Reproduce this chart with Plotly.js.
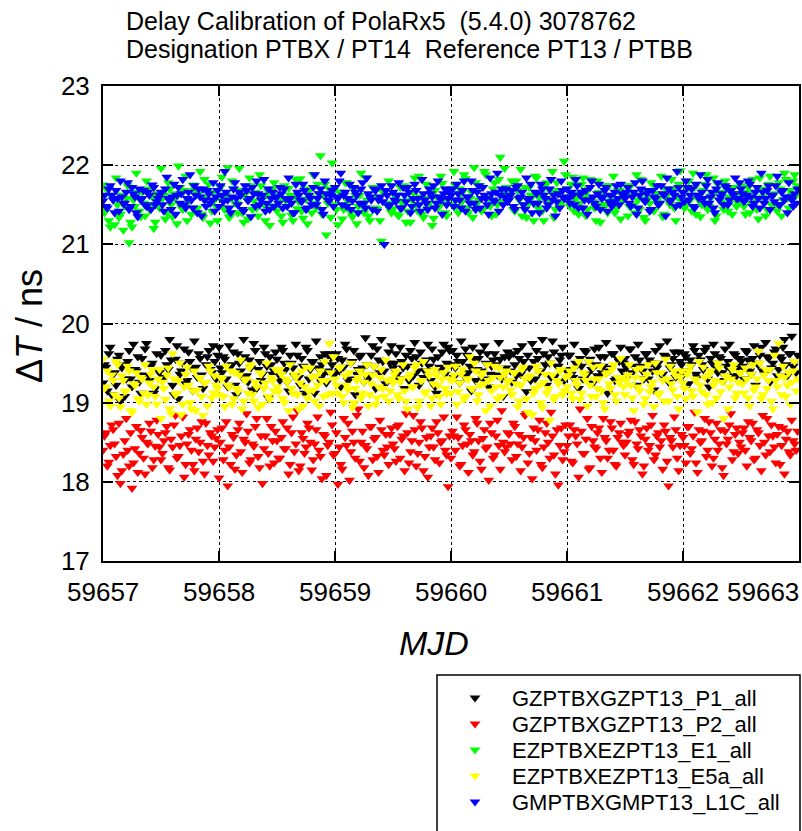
<!DOCTYPE html>
<html><head><meta charset="utf-8">
<script src="https://cdn.plot.ly/plotly-3.0.1.min.js"></script>
<style>html,body{margin:0;padding:0;background:#fff;}#chart{width:802px;height:831px;}</style>
</head><body><div id="chart"></div>
<script>
const titleLines = ['Delay Calibration of PolaRx5  (5.4.0) 3078762', 'Designation PTBX / PT14  Reference PT13 / PTBB'];
const seriesNames = ['GZPTBXGZPT13_P1_all', 'GZPTBXGZPT13_P2_all', 'EZPTBXEZPT13_E1_all', 'EZPTBXEZPT13_E5a_all', 'GMPTBXGMPT13_L1C_all'];
const seriesColors = ['#000000', '#ff0000', '#00ff00', '#ffff00', '#0000ff'];
const xTickValues = [59657, 59658, 59659, 59660, 59661, 59662, 59663];
const xTickLabels = ['59657', '59658', '59659', '59660', '59661', '59662', '59663'];
const yTickValues = [17, 18, 19, 20, 21, 22, 23];
const yTickLabels = ['17', '18', '19', '20', '21', '22', '23'];
const xTitle = 'MJD';
const yTitle = 'Δ<i>T</i> / ns';

// two interleaved sets of tracks, 40 per day each; set B sits half a step after set A
const sampleStart = 59657;
const samplesPerDay = 40;

// ---- set A ----
const p1A = [
19.25,19.45,19.62,19.10,19.38,19.55,19.02,19.48,19.30,19.66,19.20,19.42,19.58,19.12,19.35,19.75,19.28,19.50,19.18,19.40,
19.60,19.32,19.48,19.80,19.22,19.55,19.05,19.40,19.68,19.28,19.52,19.15,19.45,19.62,19.35,19.25,19.58,19.42,19.72,19.30,
19.70,19.38,19.55,19.20,19.46,19.64,19.10,19.50,19.32,19.58,19.26,19.44,19.75,19.18,19.52,19.36,19.62,19.06,19.48,19.40,
19.55,19.28,19.66,19.42,19.15,19.50,19.34,19.60,19.22,19.46,19.70,19.30,19.52,19.12,19.44,19.58,19.36,19.25,19.62,19.48,
19.38,19.56,19.20,19.45,19.68,19.30,19.52,19.10,19.42,19.60,19.26,19.48,19.35,19.72,19.18,19.54,19.80,19.40,19.28,19.50,
19.44,19.62,19.30,19.52,19.18,19.46,19.66,19.34,19.58,19.22,19.50,19.40,19.74,19.28,19.55,19.12,19.45,19.64,19.36,19.70,
19.48,19.32,19.60,19.25,19.52,19.68,19.38,19.15,19.56,19.42,19.64,19.30,19.50,19.20,19.46,19.62,19.35,19.55,19.08,19.44,
19.58,19.26,19.48,19.66,19.36,19.52,19.14,19.44,19.75,19.30,19.56,19.40,19.62,19.22,19.50,19.78,19.34,19.46,19.60,19.28,
19.42,19.60,19.32,19.50,19.18,19.46,19.66,19.36,19.55,19.25,19.48,19.70,19.38,19.58,19.12,19.44,19.62,19.30,19.52,19.40,
19.56,19.34,19.68,19.46,19.22,19.54,19.40,19.62,19.30,19.50,19.16,19.44,19.72,19.36,19.58,19.26,19.48,19.64,19.38,19.52,
19.35,19.58,19.24,19.48,19.66,19.32,19.54,19.42,19.70,19.20,19.50,19.62,19.38,19.56,19.28,19.46,19.74,19.34,19.60,19.44,
19.52,19.30,19.64,19.40,19.56,19.22,19.48,19.70,19.36,19.58,19.26,19.50,19.68,19.42,19.55,19.80,19.34,19.62,19.46,19.38
];
const p2A = [
18.40,18.62,18.25,18.72,18.48,18.08,17.98,18.35,18.80,18.20,17.92,18.42,18.12,18.65,18.30,18.50,18.74,18.18,18.45,18.60,
18.28,18.52,18.70,18.15,18.44,18.84,18.32,18.58,18.06,18.48,18.66,18.22,18.54,18.38,18.76,18.10,18.46,18.62,18.26,18.55,
18.05,18.68,18.40,17.95,18.22,18.56,18.34,18.74,18.12,18.50,18.64,18.28,18.45,18.80,18.18,17.98,18.58,18.36,18.70,18.24,
18.52,18.30,18.76,18.42,18.10,18.62,18.38,18.90,18.20,18.55,18.44,18.68,18.15,18.48,18.82,18.32,18.60,18.08,18.50,18.72,
18.36,17.97,18.22,18.80,18.46,18.02,18.64,18.30,18.92,18.50,18.18,18.42,18.70,18.28,18.56,18.12,18.66,18.34,18.44,18.60,
18.48,18.26,18.72,18.54,18.14,18.62,18.38,18.84,18.20,18.50,18.68,18.32,18.06,18.58,18.44,18.76,18.24,18.52,18.40,17.94,
18.30,18.58,18.82,18.20,18.46,18.66,18.12,18.52,18.38,18.74,18.26,18.55,18.42,18.02,18.62,18.34,18.78,18.16,18.50,18.44,
18.60,18.28,18.70,18.48,18.14,18.56,18.86,18.36,18.04,18.52,18.66,18.22,18.44,18.74,18.30,18.58,18.10,17.96,18.68,18.38,
18.46,18.72,18.24,18.58,18.06,18.64,18.36,18.80,18.18,18.52,18.42,18.68,18.12,18.56,18.30,18.76,18.40,18.20,18.62,18.50,
18.34,18.60,18.78,18.22,18.48,18.66,18.10,18.54,18.40,18.72,18.28,18.58,18.44,18.16,18.64,17.95,18.52,18.82,18.30,18.46,
18.56,18.24,18.70,18.42,18.88,18.12,18.50,18.64,18.32,18.76,18.20,18.54,18.40,18.66,18.08,18.48,18.72,18.28,18.60,18.36,
18.44,18.68,18.20,18.56,18.74,18.30,18.62,18.14,18.50,18.80,18.38,18.58,18.24,18.70,18.46,18.10,18.64,18.34,18.52,18.40
];
const e1A = [
21.75,21.45,21.30,21.62,21.25,21.50,21.38,21.18,21.58,21.02,21.22,21.48,21.66,21.35,21.52,21.80,21.44,21.60,21.28,21.55,
21.96,21.62,21.40,21.70,21.35,21.58,21.99,21.47,21.68,21.30,21.56,21.75,21.42,21.64,21.38,21.82,21.51,21.27,21.66,21.48,
21.60,21.85,21.44,21.97,21.36,21.70,21.52,21.96,21.40,21.63,21.32,21.74,21.55,21.46,21.88,21.58,21.30,21.67,21.49,21.78,
21.42,21.62,21.28,21.55,21.71,21.37,21.60,21.45,21.83,21.33,21.57,21.68,21.40,21.52,21.76,22.12,21.62,21.12,21.70,22.03,
21.50,21.25,21.66,21.44,21.78,21.58,21.35,21.62,21.48,21.90,21.40,21.56,21.30,21.72,21.46,21.60,21.04,21.68,21.52,21.44,
21.45,21.62,21.36,21.55,21.74,21.42,21.28,21.65,21.50,21.86,21.38,21.58,21.46,21.70,21.33,21.60,21.48,21.77,21.40,21.56,
21.62,21.92,21.48,21.70,21.55,21.83,21.40,21.66,21.97,21.52,21.74,21.44,21.88,21.58,21.36,21.78,21.50,22.10,21.64,21.72,
21.58,21.80,21.42,21.68,21.95,21.50,21.34,21.72,21.60,21.86,21.46,21.64,21.30,21.78,21.56,21.92,21.44,21.68,21.52,22.05,
21.70,21.48,21.85,21.58,21.38,21.76,21.62,21.44,21.82,21.54,21.30,21.66,21.50,21.74,21.40,21.60,21.86,21.46,21.68,21.55,
21.62,21.36,21.74,21.50,21.88,21.44,21.66,21.30,21.58,21.78,21.42,21.64,21.52,21.35,21.70,21.56,21.82,21.46,21.60,21.93,
21.66,21.50,21.80,21.42,21.72,21.58,21.35,21.68,21.88,21.48,21.62,21.30,21.76,21.54,21.44,21.70,21.60,21.38,21.64,21.52,
21.74,21.48,21.66,21.40,21.82,21.56,21.32,21.70,21.58,21.44,21.86,21.62,21.50,21.78,21.36,21.90,21.58,21.68,21.80,21.62
];
const e5aA = [
19.55,19.20,19.02,19.35,19.10,19.48,18.95,19.28,19.15,19.40,18.88,19.22,19.05,19.32,19.12,18.98,19.25,19.42,19.08,19.30,
18.80,19.18,19.35,18.92,19.62,19.10,19.28,18.85,19.20,19.45,19.00,19.15,18.90,19.32,19.08,19.25,18.96,19.40,19.12,19.22,
19.10,19.30,18.95,19.22,19.40,19.05,19.18,19.35,18.92,19.28,19.12,19.48,19.02,19.20,19.38,18.98,19.25,19.08,19.32,19.15,
19.20,19.42,19.05,19.30,18.90,19.18,19.36,19.10,19.25,18.96,19.45,19.14,19.32,19.02,19.22,19.40,19.08,19.28,19.75,19.12,
19.30,19.12,19.45,19.00,19.22,19.38,18.94,19.18,19.32,19.06,19.26,19.48,19.10,19.35,18.98,19.20,19.42,19.08,19.28,19.15,
19.25,19.40,19.05,19.30,19.15,18.92,19.36,19.20,19.48,19.02,19.28,19.12,19.40,18.96,19.24,19.35,19.08,19.30,19.18,19.45,
19.12,19.35,18.98,19.25,19.42,19.08,19.30,19.18,19.50,19.02,19.22,19.38,18.90,19.28,19.15,19.46,19.05,19.32,19.20,19.40,
19.28,19.10,19.38,18.95,19.22,19.45,19.05,19.32,18.85,19.18,19.40,19.00,19.26,19.12,18.78,19.35,19.08,19.24,19.42,19.15,
19.20,19.40,19.05,19.28,19.52,19.12,19.35,18.96,19.22,19.45,19.08,19.30,19.15,18.92,19.38,19.18,19.48,19.02,19.25,19.32,
19.10,19.35,19.22,18.90,19.42,19.15,19.30,19.05,19.48,19.20,18.95,19.38,19.12,19.28,19.55,19.02,19.24,19.40,19.08,19.32,
19.25,19.05,19.40,19.15,19.30,18.88,19.22,19.45,19.10,19.35,19.00,19.28,19.50,19.14,18.80,19.32,19.20,19.42,19.06,19.26,
19.38,19.12,19.30,18.96,19.48,19.20,19.65,19.05,19.35,19.18,19.42,18.92,19.28,19.75,19.10,19.32,19.22,18.98,19.40,19.15
];
const l1cA = [
21.55,21.48,21.70,21.62,21.40,21.58,21.80,21.52,21.66,21.44,21.72,21.60,21.35,21.56,21.68,21.48,21.62,21.75,21.50,21.58,
21.66,21.42,21.85,21.55,21.60,21.38,21.72,21.64,21.50,21.58,21.88,21.46,21.62,21.70,21.36,21.56,21.68,21.52,21.78,21.60,
21.48,21.62,21.92,21.56,21.40,21.70,21.58,21.66,21.44,21.74,21.55,21.35,21.64,21.80,21.50,21.62,21.42,21.70,21.58,21.48,
21.60,21.72,21.46,21.58,21.84,21.52,21.40,21.66,21.56,21.76,21.44,21.62,21.50,21.88,21.58,21.70,21.38,21.64,21.55,21.68,
21.72,21.58,21.90,21.62,21.48,21.76,21.55,21.66,21.40,21.70,21.52,21.84,21.60,21.44,21.68,21.56,21.74,21.00,21.62,21.50,
21.66,21.54,21.78,21.46,21.62,21.72,21.40,21.58,21.68,21.50,21.82,21.56,21.44,21.64,21.74,21.52,21.60,21.38,21.70,21.58,
21.62,21.48,21.76,21.56,21.68,21.42,21.60,21.80,21.52,21.66,21.46,21.72,21.58,21.38,21.64,21.54,21.90,21.62,21.50,21.70,
21.56,21.68,21.44,21.74,21.60,21.50,21.84,21.58,21.40,21.66,21.52,21.76,21.62,21.46,21.70,21.56,21.36,21.64,21.80,21.58,
21.70,21.52,21.62,21.82,21.46,21.66,21.56,21.38,21.72,21.60,21.48,21.76,21.58,21.68,21.42,21.62,21.54,21.74,21.50,21.64,
21.58,21.72,21.48,21.66,21.38,21.62,21.80,21.54,21.68,21.44,21.60,21.74,21.52,21.64,21.36,21.70,21.56,21.62,21.92,21.50,
21.66,21.80,21.56,21.70,21.46,21.62,21.88,21.58,21.74,21.52,21.66,21.40,21.78,21.60,21.50,21.72,21.56,21.64,21.84,21.58,
21.70,21.54,21.62,21.76,21.48,21.66,21.58,21.90,21.52,21.68,21.44,21.62,21.74,21.50,21.66,21.56,21.40,21.60,21.48,21.52
];

// ---- set B ----
const p1B = [
19.48,19.15,19.70,19.36,19.22,19.60,19.44,19.08,19.52,19.30,19.74,19.40,19.26,19.56,19.68,19.34,19.46,19.12,19.62,19.38,
19.28,19.66,19.42,19.54,19.10,19.72,19.36,19.50,19.24,19.64,19.44,19.78,19.32,19.56,19.18,19.48,19.66,19.38,19.52,19.60,
19.44,19.58,19.30,19.72,19.48,19.22,19.62,19.40,19.80,19.34,19.54,19.16,19.66,19.42,19.28,19.70,19.46,19.58,19.36,19.64,
19.36,19.70,19.50,19.26,19.60,19.44,19.74,19.32,19.56,19.12,19.66,19.42,19.52,19.78,19.30,19.48,19.62,19.40,19.56,19.34,
19.62,19.40,19.54,19.74,19.28,19.50,19.66,19.36,19.58,19.44,19.82,19.30,19.60,19.46,19.68,19.38,19.52,19.24,19.64,19.72,
19.50,19.36,19.70,19.44,19.60,19.28,19.56,19.76,19.40,19.64,19.32,19.54,19.46,19.68,19.20,19.58,19.42,19.74,19.50,19.66,
19.66,19.44,19.52,19.78,19.34,19.60,19.46,19.70,19.28,19.56,19.40,19.72,19.62,19.36,19.54,19.48,19.76,19.30,19.58,19.64,
19.40,19.62,19.34,19.56,19.72,19.44,19.60,19.28,19.52,19.66,19.38,19.80,19.48,19.58,19.32,19.64,19.46,19.54,19.70,19.42,
19.60,19.36,19.74,19.48,19.56,19.30,19.64,19.52,19.42,19.68,19.34,19.58,19.46,19.76,19.40,19.62,19.28,19.56,19.70,19.50,
19.44,19.68,19.38,19.58,19.74,19.46,19.30,19.62,19.54,19.40,19.66,19.50,19.36,19.60,19.78,19.44,19.56,19.32,19.64,19.48,
19.62,19.40,19.54,19.72,19.36,19.60,19.48,19.66,19.30,19.56,19.74,19.44,19.58,19.38,19.68,19.52,19.42,19.62,19.34,19.56,
19.46,19.66,19.54,19.36,19.72,19.50,19.60,19.40,19.76,19.56,19.44,19.64,19.34,19.58,19.70,19.48,19.62,19.84,19.52,19.60
];
const p2B = [
18.58,18.20,18.46,18.66,18.32,18.74,18.14,18.52,18.40,18.62,18.24,18.70,18.36,18.56,18.10,18.48,18.64,18.28,18.78,18.44,
18.36,18.62,18.18,18.54,18.72,18.30,18.46,18.82,18.22,18.60,18.40,18.14,18.68,18.50,18.26,18.74,18.34,18.58,18.44,18.66,
18.50,18.28,18.76,18.44,18.60,18.16,18.66,18.38,18.54,18.86,18.24,18.48,18.70,18.32,18.58,18.42,18.80,18.20,18.52,18.64,
18.30,18.56,18.42,18.68,18.22,18.82,18.48,18.14,18.62,18.36,18.74,18.50,18.28,18.66,18.40,18.04,18.58,18.46,18.88,18.34,
18.62,18.44,18.16,18.56,18.74,18.38,18.50,18.84,18.26,18.64,18.46,18.08,18.70,18.54,18.32,18.78,18.40,18.60,18.22,18.68,
18.42,18.70,18.30,18.58,18.86,18.24,18.52,18.66,18.36,18.76,18.14,18.56,18.44,18.68,18.28,18.62,18.50,18.82,18.34,18.58,
18.64,18.40,18.56,18.22,18.72,18.48,18.60,18.34,18.80,18.52,18.16,18.66,18.44,18.74,18.30,18.58,18.46,18.90,18.38,18.62,
18.48,18.74,18.32,18.60,18.44,18.84,18.24,18.56,18.68,18.40,18.78,18.18,18.62,18.50,18.88,18.34,18.66,18.46,18.28,18.72,
18.58,18.26,18.66,18.48,18.92,18.36,18.54,18.16,18.70,18.44,18.62,18.30,18.80,18.52,18.40,18.68,18.22,18.56,18.74,18.46,
18.50,18.64,18.28,18.76,18.42,18.58,18.20,18.68,18.46,18.84,18.34,18.62,18.52,18.72,18.26,18.56,18.44,18.66,18.14,18.60,
18.46,18.70,18.36,18.58,18.24,18.66,18.52,18.80,18.40,18.62,18.30,18.74,18.48,18.18,18.64,18.54,18.86,18.38,18.68,18.50,
18.62,18.40,18.76,18.52,18.28,18.66,18.46,18.84,18.34,18.58,18.72,18.44,18.60,18.22,18.68,18.54,18.38,18.78,18.48,18.64
];
const e1B = [
21.40,21.68,21.22,21.58,21.84,21.34,21.62,21.48,21.74,21.28,21.56,21.90,21.42,21.66,21.36,21.70,21.50,21.20,21.64,21.46,
21.58,21.32,21.78,21.50,21.64,21.26,21.72,21.44,21.86,21.54,21.38,21.68,21.46,21.92,21.34,21.60,21.76,21.42,21.56,21.30,
21.72,21.46,21.62,21.34,21.80,21.52,21.40,21.68,21.28,21.58,21.84,21.44,21.66,21.36,21.74,21.50,21.62,21.24,21.70,21.48,
21.56,21.36,21.74,21.48,21.62,21.30,21.82,21.54,21.42,21.70,21.26,21.60,21.88,21.46,21.64,21.38,21.76,21.52,21.34,21.68,
21.44,21.66,21.32,21.78,21.54,21.40,21.70,21.26,21.62,21.48,21.84,21.36,21.58,21.72,21.44,21.30,21.66,21.52,21.80,21.40,
21.62,21.38,21.72,21.50,21.28,21.66,21.56,21.84,21.42,21.60,21.34,21.76,21.52,21.24,21.68,21.46,21.86,21.58,21.36,21.70,
21.50,21.74,21.40,21.64,21.88,21.46,21.58,21.34,21.78,21.56,21.42,21.92,21.60,21.48,21.70,21.38,21.82,21.54,21.96,21.62,
21.68,21.44,21.80,21.56,21.36,21.72,21.50,21.62,21.30,21.84,21.58,21.42,21.74,21.52,21.66,21.34,21.78,21.48,21.60,21.88,
21.54,21.76,21.42,21.64,21.52,21.84,21.36,21.70,21.58,21.46,21.80,21.28,21.62,21.50,21.74,21.56,21.40,21.68,21.32,21.60,
21.74,21.48,21.62,21.40,21.56,21.82,21.34,21.66,21.52,21.44,21.72,21.58,21.86,21.38,21.62,21.50,21.70,21.30,21.76,21.54,
21.46,21.70,21.56,21.90,21.38,21.62,21.50,21.76,21.44,21.58,21.84,21.36,21.66,21.52,21.80,21.42,21.56,21.72,21.48,21.64,
21.58,21.38,21.72,21.52,21.66,21.44,21.84,21.60,21.36,21.76,21.50,21.64,21.42,21.70,21.56,21.82,21.46,21.62,21.88,21.74
];
const e5aB = [
19.18,19.40,18.96,19.28,19.52,19.06,19.34,19.14,19.46,18.90,19.24,19.38,19.02,19.30,19.48,19.10,19.36,19.20,18.98,19.42,
19.26,19.04,19.44,18.86,19.30,19.12,19.50,18.98,19.36,19.22,18.92,19.40,19.16,19.32,18.84,19.26,19.46,19.06,19.34,19.18,
19.32,19.08,19.46,19.20,18.98,19.38,19.14,19.54,19.02,19.30,19.44,19.10,19.26,18.94,19.36,19.18,19.50,19.04,19.28,19.42,
19.14,19.36,19.00,19.26,19.48,19.12,19.32,18.92,19.40,19.20,19.06,19.44,19.16,19.34,18.96,19.28,19.52,19.10,19.38,19.58,
19.22,19.44,19.08,19.34,19.16,19.50,19.00,19.28,19.40,19.12,19.36,18.96,19.24,19.46,19.06,19.32,19.18,19.54,19.02,19.30,
19.36,19.10,19.26,19.48,19.02,19.32,19.20,19.44,18.94,19.28,19.52,19.14,19.34,19.06,19.42,19.22,18.98,19.38,19.12,19.30,
19.28,19.46,19.14,19.36,19.04,19.30,19.58,19.18,19.40,19.10,19.34,19.24,19.48,18.96,19.32,19.20,19.44,19.08,19.36,19.26,
19.16,19.38,19.24,19.02,19.42,19.30,18.88,19.34,19.12,19.46,19.22,18.94,19.36,19.18,19.50,19.04,19.28,19.40,19.10,19.32,
19.34,19.12,19.44,19.22,19.04,19.38,19.28,19.52,19.08,19.30,19.18,19.46,19.00,19.36,19.24,19.42,19.10,19.32,19.56,19.20,
19.28,19.48,19.06,19.32,19.20,19.44,18.98,19.36,19.14,19.26,19.50,19.10,19.38,19.02,19.30,19.46,19.16,19.34,18.92,19.40,
19.18,19.36,19.46,19.08,19.28,19.52,19.14,19.32,18.98,19.40,19.22,19.06,19.44,19.26,19.34,18.92,19.30,19.48,19.12,19.38,
19.24,19.44,19.06,19.36,19.16,19.30,19.50,19.10,19.42,19.28,19.02,19.60,19.20,19.34,19.46,19.08,19.38,19.26,19.52,19.30
];
const l1cB = [
21.62,21.46,21.74,21.56,21.68,21.42,21.60,21.52,21.78,21.48,21.64,21.40,21.70,21.58,21.50,21.66,21.44,21.72,21.54,21.62,
21.50,21.70,21.58,21.44,21.76,21.62,21.52,21.82,21.46,21.66,21.56,21.74,21.40,21.60,21.70,21.48,21.64,21.56,21.42,21.68,
21.74,21.54,21.66,21.46,21.60,21.78,21.50,21.62,21.42,21.68,21.58,21.72,21.48,21.64,21.56,21.82,21.52,21.44,21.66,21.60,
21.52,21.64,21.70,21.48,21.58,21.40,21.76,21.62,21.54,21.68,21.46,21.58,21.72,21.50,21.64,21.44,21.80,21.56,21.62,21.48,
21.60,21.80,21.50,21.66,21.58,21.44,21.72,21.62,21.52,21.78,21.46,21.64,21.56,21.70,21.42,21.60,21.54,21.68,21.48,21.74,
21.56,21.62,21.46,21.72,21.54,21.66,21.48,21.76,21.58,21.42,21.64,21.52,21.70,21.60,21.46,21.80,21.56,21.64,21.50,21.68,
21.70,21.56,21.64,21.46,21.80,21.60,21.52,21.68,21.44,21.74,21.58,21.62,21.50,21.84,21.56,21.66,21.42,21.70,21.60,21.54,
21.62,21.48,21.72,21.58,21.66,21.44,21.56,21.76,21.52,21.64,21.40,21.70,21.58,21.50,21.82,21.62,21.54,21.46,21.68,21.60,
21.58,21.66,21.50,21.74,21.62,21.46,21.68,21.56,21.80,21.52,21.64,21.44,21.60,21.72,21.54,21.48,21.66,21.58,21.76,21.62,
21.66,21.52,21.60,21.78,21.46,21.70,21.56,21.64,21.42,21.68,21.58,21.50,21.74,21.62,21.84,21.54,21.66,21.48,21.72,21.60,
21.54,21.72,21.62,21.48,21.76,21.58,21.66,21.52,21.82,21.60,21.46,21.70,21.56,21.64,21.74,21.50,21.68,21.62,21.58,21.78,
21.64,21.56,21.80,21.60,21.52,21.72,21.46,21.66,21.58,21.74,21.62,21.54,21.86,21.50,21.68,21.60,21.78,21.56,21.64,21.70
];

const seriesA = [p1A, p2A, e1A, e5aA, l1cA];
const seriesB = [p1B, p2B, e1B, e5aB, l1cB];
const mjdA = p1A.map((_, i) => sampleStart + i / samplesPerDay);
const mjdB = p1B.map((_, i) => sampleStart + (i + 0.5) / samplesPerDay);

const FONT = 'Liberation Sans, Arial, Helvetica, sans-serif';
const legendIds = ['legend', 'legend2', 'legend3', 'legend4', 'legend5'];

const traces = seriesA.map((vals, k) => ({
  type: 'scatter',
  mode: 'markers',
  name: seriesNames[k],
  legend: legendIds[k],
  x: mjdA.concat(mjdB),
  y: vals.concat(seriesB[k]),
  marker: {symbol: 'triangle-down', size: 9.5, color: seriesColors[k], line: {width: 0}},
  cliponaxis: true
}));

// plot area geometry (pixels) used for paper positioning
const W = 802, H = 831, ML = 103, MR = 3, MT = 86, MB = 270;
const PW = W - ML - MR, PH = H - MT - MB;
const px = x => (x - ML) / PW;
const py = y => (H - MB - y) / PH;

const annotations = [];
annotations.push({text: titleLines[0], xref: 'paper', yref: 'paper', x: px(124), y: py(21), xanchor: 'left', yanchor: 'middle', showarrow: false, font: {family: FONT, size: 25, color: '#000'}});
annotations.push({text: titleLines[1], xref: 'paper', yref: 'paper', x: px(124), y: py(49), xanchor: 'left', yanchor: 'middle', showarrow: false, font: {family: FONT, size: 25, color: '#000'}});
xTickValues.forEach((v, i) => {
  const last = i === xTickValues.length - 1;
  annotations.push({text: xTickLabels[i], xref: last ? 'paper' : 'x', yref: 'paper', x: last ? px(801) : v, y: py(592), xanchor: last ? 'right' : 'center', yanchor: 'middle', showarrow: false, font: {family: FONT, size: 26, color: '#000'}});
});
annotations.push({text: '<i>' + xTitle + '</i>', xref: 'paper', yref: 'paper', x: px(434), y: py(643), xanchor: 'center', yanchor: 'middle', showarrow: false, font: {family: FONT, size: 34, color: '#000'}});
annotations.push({text: yTitle, xref: 'paper', yref: 'paper', x: px(29), y: py(326), xanchor: 'center', yanchor: 'middle', textangle: -90, showarrow: false, font: {family: FONT, size: 36, color: '#000'}});

const legendRows = [698, 724, 750, 776, 802];
const layout = {
  width: W, height: H,
  margin: {l: ML, r: MR, t: MT, b: MB, pad: 0},
  paper_bgcolor: '#fff', plot_bgcolor: '#fff',
  font: {family: FONT, color: '#000'},
  showlegend: true,
  xaxis: {
    range: [59657, 59663],
    tickvals: xTickValues, showticklabels: false,
    ticks: 'inside', ticklen: 10, tickwidth: 1.5, tickcolor: '#000',
    showline: true, linewidth: 2, linecolor: '#000', mirror: 'ticks',
    showgrid: true, gridcolor: '#000', gridwidth: 1, griddash: 'dot',
    zeroline: false
  },
  yaxis: {
    range: [17, 23],
    tickvals: yTickValues, ticktext: yTickLabels,
    ticks: 'inside', ticklen: 10, tickwidth: 2, tickcolor: '#000',
    tickfont: {family: FONT, size: 26, color: '#000'},
    ticklabelstandoff: 6,
    showline: true, linewidth: 2, linecolor: '#000', mirror: 'ticks',
    showgrid: true, gridcolor: '#000', gridwidth: 1, griddash: 'dot',
    zeroline: false
  },
  shapes: [{type: 'rect', xref: 'paper', yref: 'paper', x0: px(437), x1: px(800), y0: py(675), y1: py(845), line: {color: '#000', width: 1.5}, fillcolor: 'rgba(0,0,0,0)'}],
  annotations: annotations
};
legendIds.forEach((id, k) => {
  layout[id] = {
    x: px(438), y: py(legendRows[k]), xanchor: 'left', yanchor: 'middle',
    font: {family: FONT, size: 22, color: '#000'},
    bgcolor: 'rgba(0,0,0,0)', borderwidth: 0, itemwidth: 64
  };
});

Plotly.newPlot('chart', traces, layout, {staticPlot: true, displayModeBar: false});
</script>
</body></html>
